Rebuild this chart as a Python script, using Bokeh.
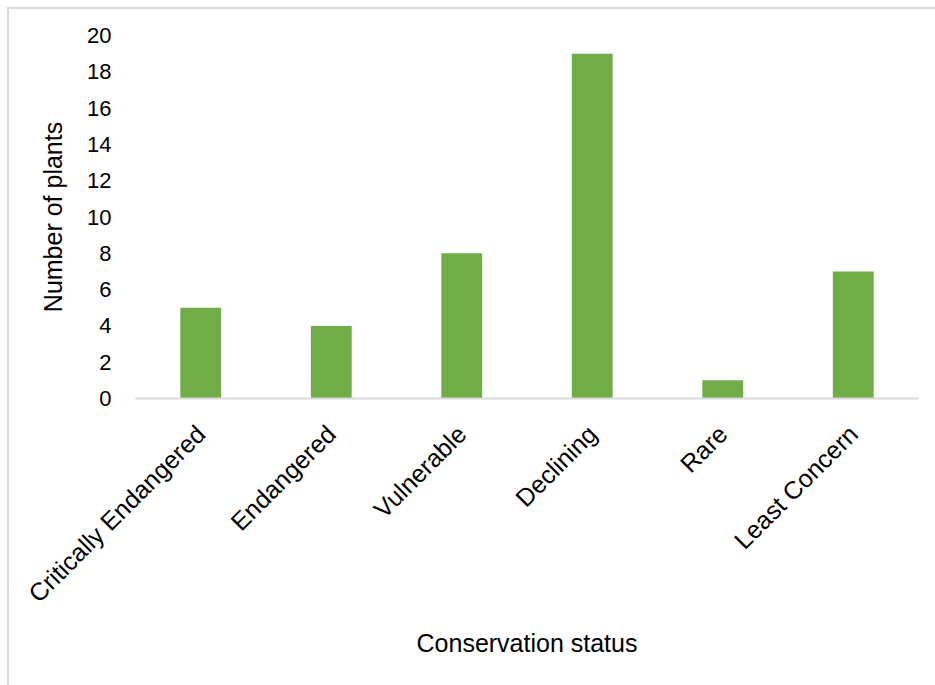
import math
from bokeh.plotting import figure
from bokeh.models import Range1d, FixedTicker
from bokeh.embed import file_html
from bokeh.resources import INLINE

categories = ["Critically Endangered", "Endangered", "Vulnerable", "Declining", "Rare", "Least Concern"]
counts = [5, 4, 8, 19, 1, 7]
y_ticks = [0, 2, 4, 6, 8, 10, 12, 14, 16, 18, 20]

FONT = "Liberation Sans"

p = figure(x_range=categories, y_range=Range1d(0, 20), width=935, height=685,
           output_backend="svg", toolbar_location=None,
           min_border_left=135, min_border_right=17, min_border_top=35, min_border_bottom=287)

p.vbar(x=categories, top=counts, width=0.313, color="#70AD47", line_color=None)

p.xgrid.grid_line_color = None
p.ygrid.grid_line_color = None
p.outline_line_color = None
p.border_fill_color = None
p.background_fill_color = None
p.styles = {
    "background": "linear-gradient(#d9d9d9, #d9d9d9) 7px 7px / 2px 100% no-repeat, "
                  "linear-gradient(#d9d9d9, #d9d9d9) 7px 7px / 100% 2px no-repeat, white"
}

# y axis
ya = p.yaxis[0]
ya.ticker = FixedTicker(ticks=y_ticks)
ya.axis_line_color = None
ya.major_tick_line_color = None
ya.minor_tick_line_color = None
ya.major_tick_out = 0
ya.major_label_standoff = 24
ya.major_label_text_font = FONT
ya.major_label_text_font_size = "22px"
ya.major_label_text_color = "#000000"
ya.axis_label = "Number of plants"
ya.axis_label_text_font = FONT
ya.axis_label_text_font_size = "25px"
ya.axis_label_text_font_style = "normal"
ya.axis_label_text_color = "#000000"
ya.axis_label_standoff = 17

# x axis
xa = p.xaxis[0]
xa.axis_line_color = "#d9d9d9"
xa.axis_line_width = 2
xa.major_tick_line_color = None
xa.minor_tick_line_color = None
xa.major_tick_out = 0
xa.major_label_orientation = math.pi / 4
xa.major_label_standoff = 31
xa.major_label_text_font = FONT
xa.major_label_text_font_size = "25px"
xa.major_label_text_color = "#000000"
xa.axis_label = "Conservation status"
xa.axis_label_text_font = FONT
xa.axis_label_text_font_size = "25px"
xa.axis_label_text_font_style = "normal"
xa.axis_label_text_color = "#000000"
xa.axis_label_standoff = 9

open("out.html", "w").write(file_html(p, INLINE))
